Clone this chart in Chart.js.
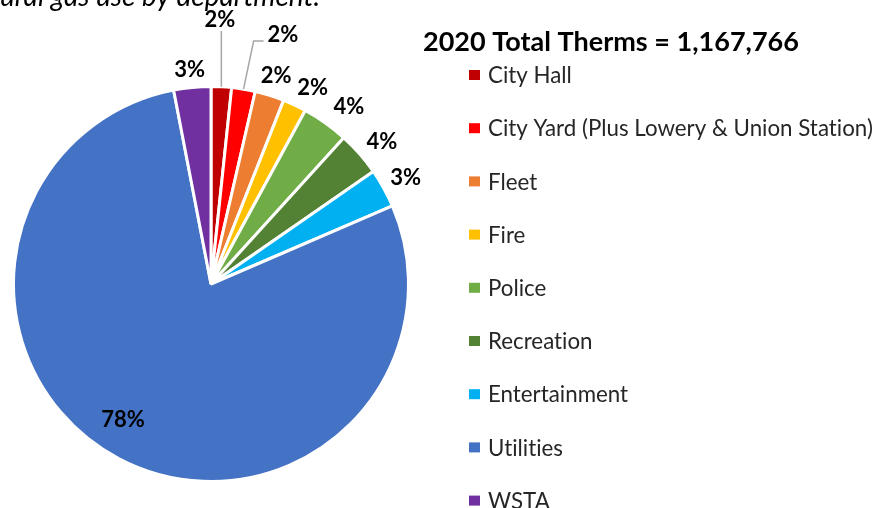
<!DOCTYPE html>
<html>
<head>
<meta charset="utf-8">
<title>Natural gas use by department</title>
<script src="https://cdn.jsdelivr.net/npm/chart.js@4"></script>
<style>
  html, body { margin: 0; padding: 0; background: #ffffff; }
  #wrap { width: 875px; height: 508px; position: relative; overflow: hidden; }
</style>
</head>
<body>
<div id="wrap"><canvas id="gas" width="875" height="508"></canvas></div>
<script>
// Departments, in slice order (clockwise from 12 o'clock)
const departments = [
  'City Hall',
  'City Yard (Plus Lowery & Union Station)',
  'Fleet',
  'Fire',
  'Police',
  'Recreation',
  'Entertainment',
  'Utilities',
  'WSTA'
];

// 2020 natural gas use per department, therms
const therms2020 = [19500, 22500, 28000, 22500, 44600, 42200, 37000, 916066, 35400];

const sliceColors = ['#C00000', '#FF0000', '#ED7D31', '#FFC000', '#70AD47', '#548235', '#00B0F0', '#4472C4', '#7030A0'];

const captionText = 'Natural gas use by department.';
const totalTherms = therms2020.reduce((a, b) => a + b, 0);
const legendTitle = '2020 Total Therms = ' + totalTherms.toLocaleString('en-US');

const FONT = 'Lato, "Open Sans", sans-serif';

// Labels for the two thin slices are pulled out and joined with leader lines
const callouts = {
  0: { x: 220, y: 20, leader: 'vertical' },
  1: { x: 283, y: 35, leader: 'elbow' }
};
// small nudges so neighbouring labels don't collide
const labelNudge = { 2: [-2, 1], 3: [6, 2], 4: [7, 1], 5: [1, 2], 6: [-3, 0], 8: [0, 4] };

function plainText(ctx) {
  // keep "ti"/"fi" from turning into ligatures
  ctx.letterSpacing = '0.01px';
  ctx.textRendering = 'optimizeSpeed';
}

const pieLabels = {
  id: 'pieLabels',
  afterDatasetsDraw(chart) {
    const ctx = chart.ctx;
    const meta = chart.getDatasetMeta(0);
    const data = chart.data.datasets[0].data;
    const total = data.reduce((a, b) => a + b, 0);
    ctx.save();
    ctx.font = 'bold 22px ' + FONT;
    ctx.fillStyle = '#000000';
    ctx.textAlign = 'center';
    ctx.textBaseline = 'middle';
    meta.data.forEach((arc, i) => {
      const p = arc.getProps(['x', 'y', 'startAngle', 'endAngle', 'outerRadius'], true);
      const mid = (p.startAngle + p.endAngle) / 2;
      const cos = Math.cos(mid), sin = Math.sin(mid);
      const text = Math.round(data[i] / total * 100) + '%';
      const w = ctx.measureText(text).width;
      const h = 15;
      const c = callouts[i];
      if (c) {
        const ex = p.x + p.outerRadius * cos;
        const ey = p.y + p.outerRadius * sin;
        ctx.strokeStyle = '#A6A6A6';
        ctx.lineWidth = 1.5;
        ctx.beginPath();
        if (c.leader === 'vertical') {
          ctx.moveTo(ex, ey);
          ctx.lineTo(ex, c.y + 11);
        } else {
          ctx.moveTo(ex, ey);
          ctx.lineTo(c.x - w / 2 - 14, c.y + 6);
          ctx.lineTo(c.x - w / 2 - 4, c.y + 6);
        }
        ctx.stroke();
        ctx.fillText(text, c.x, c.y);
        return;
      }
      if (data[i] / total > 0.5) {
        // large slice: label sits inside
        const a = mid + 5 * Math.PI / 180;
        const d = p.outerRadius * 0.82;
        ctx.fillText(text, p.x + d * Math.cos(a), p.y + d * Math.sin(a));
        return;
      }
      const d = p.outerRadius + 13;
      const n = labelNudge[i] || [0, 0];
      const px = p.x + d * cos + n[0];
      const py = p.y + d * sin + n[1];
      ctx.fillText(text, px + (w / 2) * cos, py + (h / 2 + 1) * sin);
    });
    ctx.restore();
  }
};

const sideLegend = {
  id: 'sideLegend',
  afterDraw(chart) {
    const ctx = chart.ctx;
    const ds = chart.data.datasets[0];
    ctx.save();
    plainText(ctx);
    // cropped caption line at the top
    ctx.font = 'italic 28px ' + FONT;
    ctx.fillStyle = '#000000';
    ctx.textAlign = 'right';
    ctx.textBaseline = 'alphabetic';
    ctx.fillText(captionText, 320, 6);

    ctx.font = 'bold 27px ' + FONT;
    ctx.textAlign = 'left';
    ctx.textBaseline = 'middle';
    ctx.fillText(legendTitle, 423, 42);

    ctx.font = '22.3px ' + FONT;
    chart.data.labels.forEach((label, i) => {
      const cy = 75 + i * 53.2;
      ctx.fillStyle = ds.backgroundColor[i];
      ctx.fillRect(469, cy - 5, 11, 10);
      ctx.fillStyle = '#262626';
      ctx.fillText(label, 488, cy + 1);
    });
    ctx.restore();
  }
};

new Chart(document.getElementById('gas'), {
  type: 'pie',
  data: {
    labels: departments,
    datasets: [{
      data: therms2020,
      backgroundColor: sliceColors,
      borderColor: '#FFFFFF',
      borderWidth: 3
    }]
  },
  options: {
    responsive: false,
    animation: false,
    layout: { padding: { left: 12, top: 85, right: 465, bottom: 25 } },
    plugins: {
      legend: { display: false },
      tooltip: { enabled: false }
    }
  },
  plugins: [pieLabels, sideLegend]
});
</script>
</body>
</html>
